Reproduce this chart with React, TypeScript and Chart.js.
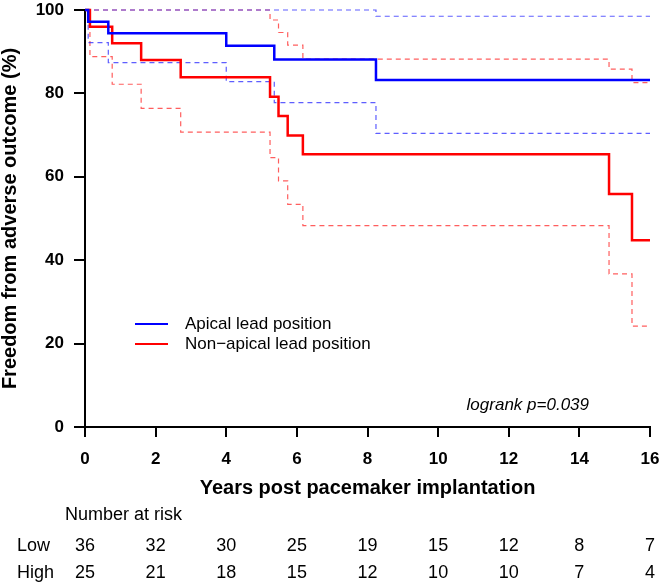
import React, { useEffect, useRef } from "react";
import { Chart, registerables } from "chart.js";

Chart.register(...registerables);

// ---- data ----
const yearTicks = [0, 2, 4, 6, 8, 10, 12, 14, 16];
const riskLow = [36, 32, 30, 25, 19, 15, 12, 8, 7];
const riskHigh = [25, 21, 18, 15, 12, 10, 10, 7, 4];
const riskRowLabels = ["Low", "High"];

const apicalTimes = [0, 0.09, 0.66, 4.0, 5.36, 8.24, 16];
const apicalSurvival = [100, 97.2, 94.4, 91.4, 88.1, 83.2, 83.2];
const apicalUpper = [100, 100, 100, 100, 100, 98.5, 98.5];
const apicalLower = [100, 92.2, 87.4, 82.8, 77.8, 70.4, 70.4];

const nonApicalTimes = [0, 0.14, 0.77, 1.59, 2.71, 5.24, 5.48, 5.74, 6.17, 14.84, 15.49, 16];
const nonApicalSurvival = [100, 96.0, 92.0, 88.0, 83.9, 79.2, 74.6, 69.9, 65.4, 55.9, 44.8, 44.8];
const nonApicalUpper = [100, 100, 100, 100, 100, 97.6, 94.6, 91.6, 88.2, 85.8, 82.6, 82.6];
const nonApicalLower = [100, 88.8, 82.2, 76.4, 70.7, 64.6, 59.0, 53.4, 48.3, 36.7, 24.2, 24.2];

const seriesLabels = ["Apical lead position", "Non\u2212apical lead position"];
const pValueText = "logrank p=0.039";
const yTitle = "Freedom from adverse outcome (%)";
const xTitle = "Years post pacemaker implantation";
const riskTitle = "Number at risk";

const FONT = "'Liberation Sans', Arial, Helvetica, sans-serif";
const BLUE = "#0000ff";
const RED = "#ff0000";
const BLUE_CI = "rgba(40,40,255,0.75)";
const RED_CI = "rgba(255,40,40,0.75)";

function pts(times: number[], vals: number[]) {
  return times.map((t, i) => ({ x: t, y: vals[i] }));
}

const annotationPlugin = {
  id: "kmAnnotations",
  afterDraw(chart: any) {
    const ctx = chart.ctx as CanvasRenderingContext2D;
    const xs = chart.scales.x;
    ctx.save();
    // legend
    const legendColors = [BLUE, RED];
    const legendY = [324, 344];
    ctx.font = `17px ${FONT}`;
    ctx.textBaseline = "middle";
    ctx.textAlign = "left";
    seriesLabels.forEach((lab, i) => {
      ctx.strokeStyle = legendColors[i];
      ctx.lineWidth = 2;
      ctx.beginPath();
      ctx.moveTo(135, legendY[i]);
      ctx.lineTo(168, legendY[i]);
      ctx.stroke();
      ctx.fillStyle = "#000";
      ctx.fillText(lab, 185, legendY[i]);
    });
    // p value
    ctx.font = `italic 17px ${FONT}`;
    ctx.textAlign = "right";
    ctx.fillText(pValueText, 589, 405);
    // risk table
    ctx.font = `18px ${FONT}`;
    ctx.textAlign = "left";
    ctx.fillText(riskTitle, 65, 515);
    const rows = [riskLow, riskHigh];
    const rowY = [546, 573];
    rows.forEach((row, r) => {
      ctx.textAlign = "left";
      ctx.fillText(riskRowLabels[r], 17, rowY[r]);
      ctx.textAlign = "center";
      row.forEach((n, i) => {
        ctx.fillText(String(n), xs.getPixelForValue(yearTicks[i]), rowY[r]);
      });
    });
    ctx.restore();
  },
};

export default function App() {
  const ref = useRef<HTMLCanvasElement | null>(null);
  useEffect(() => {
    if (!ref.current) return;
    const solid = (label: string, data: any, color: string) => ({
      label,
      data,
      borderColor: color,
      backgroundColor: color,
      borderWidth: 2.5,
      pointRadius: 0,
      stepped: "before" as const,
      fill: false,
    });
    const dashed = (label: string, data: any, color: string) => ({
      label,
      data,
      borderColor: color,
      backgroundColor: color,
      borderWidth: 1.2,
      borderDash: [5, 4],
      pointRadius: 0,
      stepped: "before" as const,
      fill: false,
    });
    const chart = new Chart(ref.current, {
      type: "line",
      data: {
        datasets: [
          solid(seriesLabels[0], pts(apicalTimes, apicalSurvival), BLUE),
          solid(seriesLabels[1], pts(nonApicalTimes, nonApicalSurvival), RED),
          dashed("Apical upper", pts(apicalTimes, apicalUpper), BLUE_CI),
          dashed("Apical lower", pts(apicalTimes, apicalLower), BLUE_CI),
          dashed("Non-apical upper", pts(nonApicalTimes, nonApicalUpper), RED_CI),
          dashed("Non-apical lower", pts(nonApicalTimes, nonApicalLower), RED_CI),
        ],
      },
      options: {
        responsive: false,
        animation: false,
        clip: 4 as any,
        layout: { padding: { left: 0, top: 0, right: 0, bottom: 87 } },
        plugins: { legend: { display: false }, tooltip: { enabled: false } },
        scales: {
          x: {
            type: "linear",
            min: 0,
            max: 16,
            afterFit: (s: any) => {
              s.height = 73;
              s.paddingLeft = 0;
              s.paddingRight = 11;
            },
            afterBuildTicks: (s: any) => {
              s.ticks = yearTicks.map((v) => ({ value: v }));
            },
            ticks: {
              color: "#000",
              font: { family: FONT, size: 17, weight: "bold" },
              padding: 12,
              maxRotation: 0,
            },
            grid: {
              drawOnChartArea: false,
              drawTicks: true,
              tickLength: 10,
              color: "#000",
              lineWidth: 2,
            },
            border: { display: true, color: "#000", width: 2 },
            title: {
              display: true,
              text: xTitle,
              color: "#000",
              font: { family: FONT, size: 20, weight: "bold", lineHeight: 1.2 },
              padding: 0,
            },
          },
          y: {
            type: "linear",
            min: 0,
            max: 100,
            afterFit: (s: any) => {
              s.width = 85;
              s.paddingTop = 10;
              s.paddingBottom = 0;
            },
            ticks: {
              stepSize: 20,
              color: "#000",
              font: { family: FONT, size: 17, weight: "bold" },
              padding: 10,
            },
            grid: {
              drawOnChartArea: false,
              drawTicks: true,
              tickLength: 11,
              color: "#000",
              lineWidth: 2,
            },
            border: { display: true, color: "#000", width: 2 },
            title: {
              display: true,
              text: yTitle,
              color: "#000",
              font: { family: FONT, size: 20, weight: "bold", lineHeight: 1.0 },
              padding: 0,
            },
          },
        },
      },
      plugins: [annotationPlugin],
    });
    return () => chart.destroy();
  }, []);
  return (
    <div style={{ position: "absolute", left: 0, top: 0, width: 661, height: 587, background: "#fff" }}>
      <canvas ref={ref} width={661} height={587} style={{ display: "block" }} />
    </div>
  );
}
